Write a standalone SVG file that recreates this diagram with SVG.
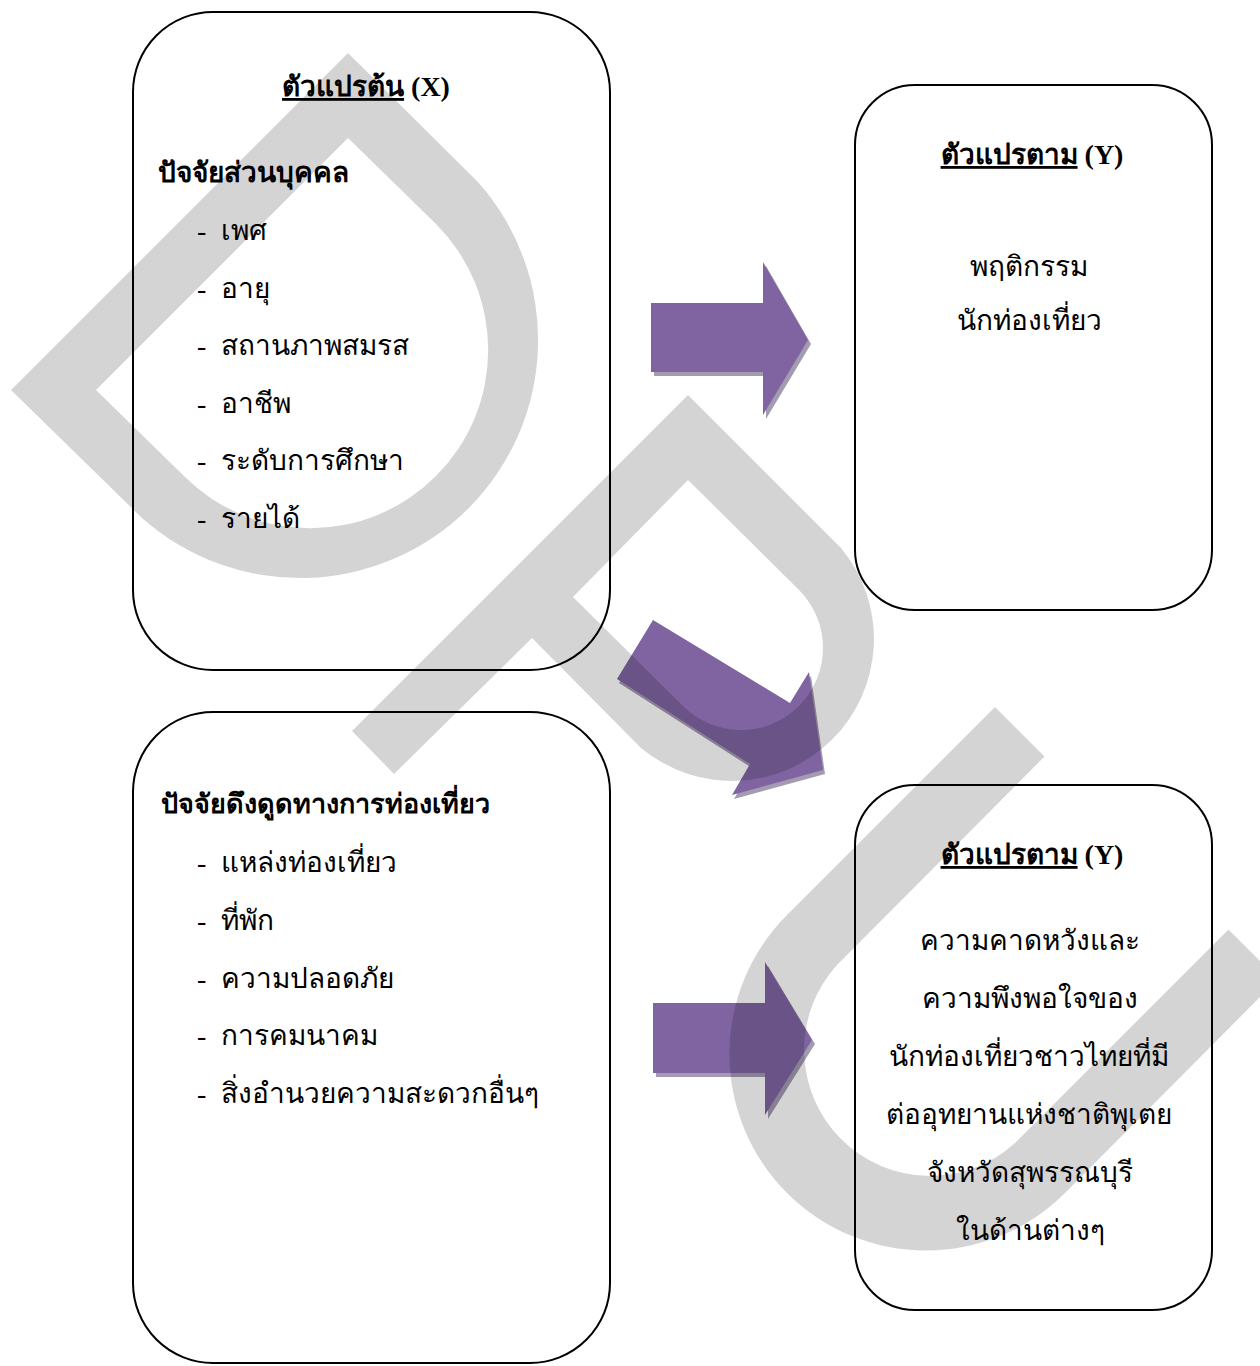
<svg xmlns="http://www.w3.org/2000/svg" width="1260" height="1366" viewBox="0 0 1260 1366">
<style>
.box{fill:#fff;stroke:#000;stroke-width:2}
.t{font-family:"Liberation Serif","DejaVu Serif",serif;font-size:28px;fill:#000}
.b{font-weight:bold}
.c{text-anchor:middle}
.u{text-decoration:underline}
.arrow{fill:#8064a2}
.shadow{fill:#a39bb0}
.wm{fill:#000;fill-opacity:0.17;fill-rule:evenodd}
</style>
<rect x="0" y="0" width="1260" height="1366" fill="#fff"/>

<g id="node-x">
<rect class="box" x="133" y="12" width="477" height="658" rx="80" ry="80"/>
<text class="t b c" x="366" y="96"><tspan class="u">ตัวแปรต้น</tspan> (X)</text>
<text class="t b" x="158" y="182">ปัจจัยส่วนบุคคล</text>
<text class="t" x="197" y="240">-</text><text class="t" x="221" y="240">เพศ</text>
<text class="t" x="197" y="298">-</text><text class="t" x="221" y="298">อายุ</text>
<text class="t" x="197" y="355">-</text><text class="t" x="221" y="355">สถานภาพสมรส</text>
<text class="t" x="197" y="413">-</text><text class="t" x="221" y="413">อาชีพ</text>
<text class="t" x="197" y="470">-</text><text class="t" x="221" y="470">ระดับการศึกษา</text>
<text class="t" x="197" y="528">-</text><text class="t" x="221" y="528">รายได้</text>
</g>

<g id="node-y1">
<rect class="box" x="855" y="85" width="357" height="525" rx="60" ry="60"/>
<text class="t b c" x="1032" y="164"><tspan class="u">ตัวแปรตาม</tspan> (Y)</text>
<text class="t c" x="1029" y="276">พฤติกรรม</text>
<text class="t c" x="1029" y="330">นักท่องเที่ยว</text>
</g>

<g id="node-attr">
<rect class="box" x="133" y="712" width="477" height="651" rx="80" ry="80"/>
<text class="t b" x="161" y="813" style="font-size:27px">ปัจจัยดึงดูดทางการท่องเที่ยว</text>
<text class="t" x="197" y="872">-</text><text class="t" x="221" y="872">แหล่งท่องเที่ยว</text>
<text class="t" x="197" y="930">-</text><text class="t" x="221" y="930">ที่พัก</text>
<text class="t" x="197" y="988">-</text><text class="t" x="221" y="988">ความปลอดภัย</text>
<text class="t" x="197" y="1045">-</text><text class="t" x="221" y="1045">การคมนาคม</text>
<text class="t" x="197" y="1103">-</text><text class="t" x="221" y="1103">สิ่งอำนวยความสะดวกอื่นๆ</text>
</g>

<g id="node-y2">
<rect class="box" x="855" y="785" width="357" height="525" rx="60" ry="60"/>
<text class="t b c" x="1032" y="864"><tspan class="u">ตัวแปรตาม</tspan> (Y)</text>
<text class="t c" x="1030" y="950">ความคาดหวังและ</text>
<text class="t c" x="1030" y="1008">ความพึงพอใจของ</text>
<text class="t c" x="1029" y="1066">นักท่องเที่ยวชาวไทยที่มี</text>
<text class="t c" x="1029" y="1124">ต่ออุทยานแห่งชาติพุเตย</text>
<text class="t c" x="1030" y="1182">จังหวัดสุพรรณบุรี</text>
<text class="t c" x="1030" y="1240">ในด้านต่างๆ</text>
</g>

<g id="connectors">
<g id="arrow-1">
<polygon class="shadow" points="654,307 766,307 766,266 811,344 766,419 766,376 654,376"/>
<polygon class="arrow" points="651,303 763,303 763,262 808,340 763,415 763,372 651,372"/>
</g>
<g id="arrow-2">
<polygon class="shadow" points="655,624 792,707 811,676 825,774 734,799 752,768 619,683"/>
<polygon class="arrow" points="653,620 790,703 809,672 823,770 732,795 750,764 617,679"/>
</g>
<g id="arrow-3">
<polygon class="shadow" points="656,1007 768,1007 768,966 815,1044 768,1119 768,1077 656,1077"/>
<polygon class="arrow" points="653,1003 765,1003 765,962 812,1040 765,1115 765,1073 653,1073"/>
</g>
</g>

<g id="watermark">
<path class="wm" d="M348,53 L478,182 A238,238 0 0 1 142,518 L11,390 Z M348,138 L436,224 A178,178 0 0 1 184,476 L96,390 Z"/>
<path class="wm" d="M688,395 L841,548 A142,142 0 0 1 641,748 L532,638 L394,774 L352,731 Z M688,480 L799,590 A82,82 0 0 1 683,706 L573,597 Z"/>
<path class="wm" d="M995,707 L787,915 A196,196 0 0 0 1065,1193 L1278,979 L1228.5,929.5 L1015,1143 A126,126 0 0 1 837,965 L1044.5,756.5 Z"/>
</g>
</svg>
